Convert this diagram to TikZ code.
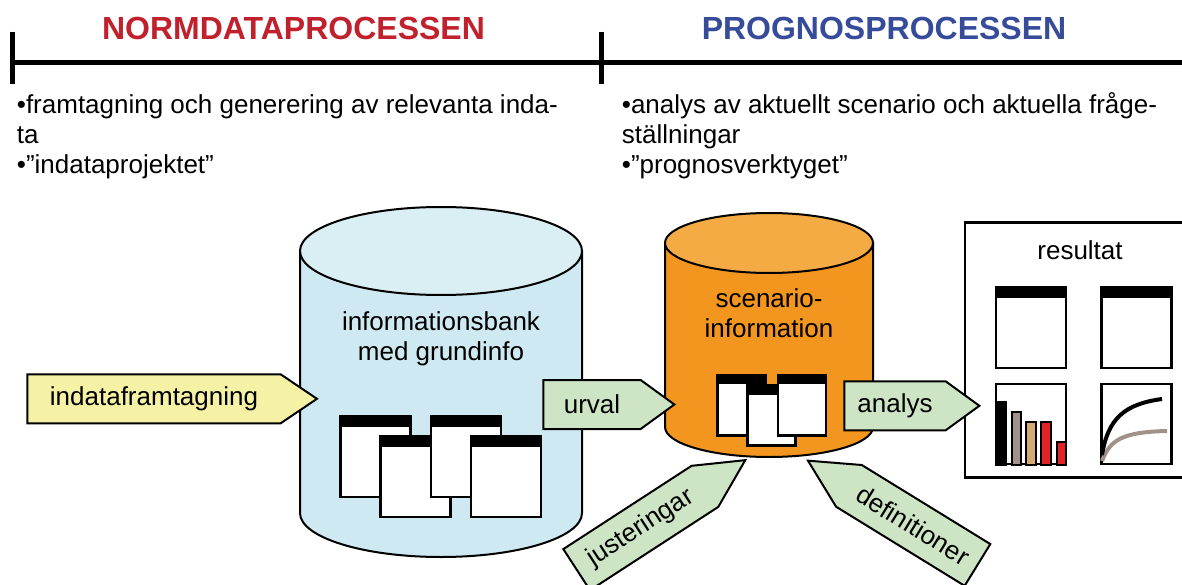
\documentclass[tikz,border=0pt]{standalone}
\usepackage{fontspec}
\setmainfont{Liberation Sans}
\usepackage{tikz}
\usetikzlibrary{shapes.symbols}
\definecolor{normred}{RGB}{193,32,45}
\definecolor{progblue}{RGB}{55,75,155}
\definecolor{bankside}{RGB}{206,233,241}
\definecolor{banktop}{RGB}{217,239,244}
\definecolor{scenside}{RGB}{243,150,31}
\definecolor{scentop}{RGB}{245,171,68}
\definecolor{tagyellow}{RGB}{246,242,165}
\definecolor{taggreen}{RGB}{205,229,197}
\definecolor{bargrey}{RGB}{160,146,136}
\definecolor{bartan}{RGB}{214,168,118}
\definecolor{barred}{RGB}{226,35,38}
\def\txt{\fontsize{26}{30}\selectfont}
\def\hdr{\fontsize{32}{36}\selectfont\bfseries}
\tikzstyle{tagarrow} = [signal, signal from=nowhere, draw=black, line width=2pt, minimum height=49pt, inner sep=0pt, font=\txt]
\tikzstyle{chartbox} = [draw=black, line width=2.5pt, fill=white, minimum width=70pt, minimum height=80pt, inner sep=0pt]
\tikzstyle{bodyline} = [anchor=base west, inner sep=0pt]
\tikzset{docwin/.style n args={3}{draw=black, line width=2.5pt, fill=white, minimum width=#1pt, minimum height=#2pt, inner sep=0pt,
  path picture={\fill[black] (path picture bounding box.north west) rectangle ([yshift=-#3pt]path picture bounding box.north east);}}}

\begin{document}
\begin{tikzpicture}[x=1pt,y=-1pt,every node/.style={font=\txt}]
\useasboundingbox (0,0) rectangle (1182,585);
\draw[line width=5pt] (12.3,62.7) -- (1190,62.7);
\draw[line width=5pt] (12.3,31.7) -- (12.3,84);
\draw[line width=5pt] (601.7,31.7) -- (601.7,84);
\node[anchor=base, text=normred, font=\hdr] (hdrnorm) at (293.5,39.3) {NORMDATAPROCESSEN};
\node[anchor=base, text=progblue, font=\hdr] (hdrprog) at (884,39.3) {PROGNOSPROCESSEN};
\node[bodyline] (normtxt1) at (16.7,113.5) {•framtagning och generering av relevanta inda-};
\node[bodyline] (normtxt2) at (16.7,143.5) {ta};
\node[bodyline] (normtxt3) at (16.7,173.5) {•”indataprojektet”};
\node[bodyline] (progtxt1) at (621.7,113.5) {•analys av aktuellt scenario och aktuella fråge-};
\node[bodyline] (progtxt2) at (621.7,143.5) {ställningar};
\node[bodyline] (progtxt3) at (621.7,173.5) {•”prognosverktyget”};
\draw[line width=2pt, fill=bankside] (300,251) -- (300,513) arc[start angle=180, end angle=360, x radius=141pt, y radius=44pt] -- (582,251) -- cycle;
\draw[line width=2pt, fill=banktop] (441,251) ellipse [x radius=141pt, y radius=44pt];
\node[align=center] (banktxt) at (441,339) {informationsbank\\med grundinfo};
\node[docwin={70}{81}{11}] (docA) at (375.5,456.3) {};
\node[docwin={70}{81}{11}] (docB) at (415.5,476.3) {};
\node[docwin={70}{81}{11}] (docC) at (466,456.3) {};
\node[docwin={70}{81}{11}] (docD) at (506,476.3) {};
\draw[line width=2pt, fill=scenside] (665,243) -- (665,427) arc[start angle=180, end angle=360, x radius=104pt, y radius=30pt] -- (873,243) -- cycle;
\draw[line width=2pt, fill=scentop] (769,243) ellipse [x radius=104pt, y radius=30pt];
\node[align=center] (scentxt) at (769,313) {scenario-\\information};
\node[docwin={48}{60}{9}] (sdoc1) at (741.7,405.3) {};
\node[docwin={48}{60}{9}] (sdoc2) at (771.7,415.5) {};
\node[docwin={48}{60}{9}] (sdoc3) at (802,405.3) {};
\draw[line width=2.5pt] (965,222.7) rectangle (1195,477.3);
\node[anchor=base] (restxt) at (1080,259) {resultat};
\node[docwin={70}{81}{11}] (win1) at (1031,327.7) {};
\node[docwin={70}{81}{11}] (win2) at (1136.5,327.7) {};
\node[chartbox] (barbox) at (1031,424.2) {};
\node[chartbox] (linebox) at (1136.5,424.2) {};
\filldraw[fill=black, line width=2pt] (996,402) rectangle (1006,465);
\filldraw[fill=bargrey, line width=2pt] (1011.7,412) rectangle (1020.7,465);
\filldraw[fill=bartan, line width=2pt] (1026,422) rectangle (1035.7,465);
\filldraw[fill=barred, line width=2pt] (1041,422) rectangle (1051.3,465);
\filldraw[fill=barred, line width=2pt] (1057,442) rectangle (1065.7,465);
\draw[line width=4pt, bargrey] (1102,461) .. controls (1110,440) and (1122,432) .. (1167,431);
\draw[line width=4pt, black] (1102,455) .. controls (1108,418) and (1125,404) .. (1162,399);
\node[tagarrow, fill=tagyellow, signal to=east, signal pointer angle=68, minimum width=289.6pt] (indat) at (154,398.8) {indataframtagning};
\node[tagarrow, fill=taggreen, signal to=east, signal pointer angle=72, minimum width=131pt] (urval) at (592,404.5) {urval};
\node[tagarrow, fill=taggreen, signal to=east, signal pointer angle=72, minimum width=135pt] (analys) at (895,405.8) {analys};
\node[tagarrow, fill=taggreen, signal to=east, signal pointer angle=54, minimum width=201pt, rotate=33] (just) at (640.8,528) {justeringar};
\node[tagarrow, fill=taggreen, signal to=west, signal pointer angle=54, minimum width=199pt, rotate=-31.6] (defin) at (913.2,525.4) {definitioner};
\end{tikzpicture}
\end{document}
